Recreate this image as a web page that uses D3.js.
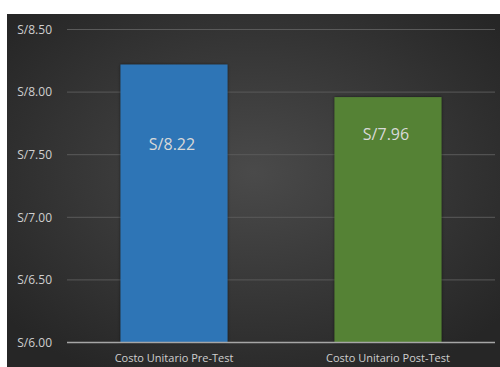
<!DOCTYPE html>
<html>
<head>
<meta charset="utf-8">
<script src="https://cdn.jsdelivr.net/npm/d3@7"></script>
<style>
  html, body { margin: 0; padding: 0; background: #fff; }
  svg { display: block; }
</style>
</head>
<body>
<svg id="chart"></svg>
<script>
// data
const categories = ["Costo Unitario Pre-Test", "Costo Unitario Post-Test"];
const costs = [8.22, 7.96];
const barColors = ["#2e75b6", "#548235"];
const yTicks = [6.0, 6.5, 7.0, 7.5, 8.0, 8.5];

const config = {
  width: 500,
  height: 367,
  margin: { top: 29.5, right: 5, bottom: 24.5, left: 67 },
  get usableWidth() {
    return this.width - this.margin.left - this.margin.right;
  },
  get usableHeight() {
    return this.height - this.margin.top - this.margin.bottom;
  }
};

const svg = d3.select("#chart")
  .attr("width", config.width)
  .attr("height", config.height);

// dark gradient backdrop, like the office "dark" chart style
const defs = svg.append("defs");
const grad = defs.append("radialGradient")
  .attr("id", "bg")
  .attr("cx", "50%").attr("cy", "45%").attr("r", "65%");
grad.append("stop").attr("offset", "0%").attr("stop-color", "#4a4a4a");
grad.append("stop").attr("offset", "100%").attr("stop-color", "#262626");

const shadow = defs.append("filter").attr("id", "shadow")
  .attr("x", "-10%").attr("y", "-10%").attr("width", "120%").attr("height", "120%");
shadow.append("feDropShadow")
  .attr("dx", 0).attr("dy", 0).attr("stdDeviation", 1.5)
  .attr("flood-color", "#000").attr("flood-opacity", 0.6);

svg.append("rect")
  .attr("x", 7).attr("y", 14)
  .attr("width", config.width - 7).attr("height", config.height - 14)
  .attr("fill", "url(#bg)");

const g = svg.append("g")
  .attr("transform", `translate(${config.margin.left},${config.margin.top})`);

const x = d3.scaleBand()
  .domain(categories)
  .range([0, config.usableWidth])
  .paddingInner(0.5)
  .paddingOuter(0.25);

const y = d3.scaleLinear()
  .domain([6, 8.5])
  .range([config.usableHeight, 0]);

const font = "'Open Sans', sans-serif";

// gridlines
g.append("g")
  .selectAll("line")
  .data(yTicks.slice(1))
  .join("line")
  .attr("x1", 0)
  .attr("x2", config.usableWidth)
  .attr("y1", d => y(d))
  .attr("y2", d => y(d))
  .attr("stroke", "#5a5a5a")
  .attr("stroke-width", 1);

// y tick labels
g.append("g")
  .selectAll("text")
  .data(yTicks)
  .join("text")
  .attr("x", -15)
  .attr("y", d => y(d))
  .attr("dy", "0.35em")
  .attr("text-anchor", "end")
  .attr("fill", "#cfcfcf")
  .style("font-family", font)
  .style("font-size", "12px")
  .text(d => "S/" + d3.format(".2f")(d));

// bars
const data = categories.map((c, i) => ({ cat: c, value: costs[i], color: barColors[i] }));

g.append("g")
  .selectAll("rect")
  .data(data)
  .join("rect")
  .attr("x", d => x(d.cat))
  .attr("y", d => y(d.value))
  .attr("width", x.bandwidth())
  .attr("height", d => y(6) - y(d.value))
  .attr("fill", d => d.color)
  .attr("filter", "url(#shadow)");

// value labels inside bars
const labelDrop = [80, 37];
g.append("g")
  .selectAll("text")
  .data(data)
  .join("text")
  .attr("x", d => x(d.cat) + x.bandwidth() / 2 - 2)
  .attr("y", (d, i) => y(d.value) + labelDrop[i])
  .attr("dy", "0.35em")
  .attr("text-anchor", "middle")
  .attr("fill", "#d9d9d9")
  .style("font-family", font)
  .style("font-size", "16px")
  .text(d => "S/" + d3.format(".2f")(d.value));

// baseline axis
g.append("line")
  .attr("x1", 0)
  .attr("x2", config.usableWidth)
  .attr("y1", y(6))
  .attr("y2", y(6))
  .attr("stroke", "#a6a6a6")
  .attr("stroke-width", 1.5);

// category labels
g.append("g")
  .selectAll("text")
  .data(categories)
  .join("text")
  .attr("x", d => x(d) + x.bandwidth() / 2)
  .attr("y", config.usableHeight + 19)
  .attr("text-anchor", "middle")
  .attr("fill", "#cfcfcf")
  .style("font-family", font)
  .style("font-size", "11px")
  .text(d => d);
</script>
</body>
</html>
